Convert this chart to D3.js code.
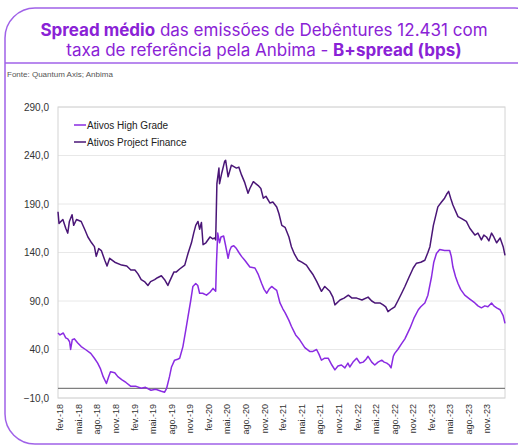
<!DOCTYPE html>
<html>
<head>
<meta charset="utf-8">
<script src="https://cdn.jsdelivr.net/npm/d3@7"></script>
<style>
  body { margin: 0; background: #fff; }
  svg { display: block; }
</style>
</head>
<body>
<div id="chart"></div>
<script>
// data (bps)
var pfDates = ["2018-01-22","2018-01-27","2018-02-15","2018-03-01","2018-03-11","2018-03-19","2018-04-01","2018-04-09","2018-04-23","2018-05-16",
  "2018-06-02","2018-06-18","2018-07-06","2018-07-20","2018-07-29","2018-08-10","2018-08-23","2018-09-09","2018-09-20","2018-10-03",
  "2018-10-28","2018-12-01","2018-12-26","2019-01-15","2019-02-04","2019-02-19","2019-03-07","2019-03-23","2019-04-09","2019-04-22",
  "2019-05-12","2019-05-26","2019-06-14","2019-06-30","2019-07-16","2019-07-24","2019-08-15","2019-08-27","2019-09-12","2019-10-07",
  "2019-10-23","2019-11-09","2019-11-20","2019-11-30","2019-12-11","2019-12-19","2019-12-28","2020-01-05","2020-01-19","2020-02-08",
  "2020-02-22","2020-03-02","2020-03-07","2020-03-13","2020-03-23","2020-03-26","2020-04-06","2020-04-20","2020-04-25","2020-05-07",
  "2020-05-23","2020-06-17","2020-06-29","2020-07-12","2020-07-28","2020-08-13","2020-08-22","2020-09-08","2020-10-02","2020-10-15",
  "2020-10-27","2020-11-09","2020-11-29","2020-12-13","2021-01-01","2021-01-12","2021-01-26","2021-02-11","2021-03-02","2021-03-14",
  "2021-03-30","2021-04-16","2021-05-04","2021-05-27","2021-06-12","2021-06-29","2021-07-17","2021-08-09","2021-08-25","2021-09-19",
  "2021-10-04","2021-10-14","2021-11-08","2021-11-28","2021-12-19","2022-01-06","2022-01-29","2022-02-24","2022-03-26","2022-04-13",
  "2022-04-28","2022-05-23","2022-06-08","2022-06-21","2022-07-02","2022-07-20","2022-08-04","2022-08-19","2022-09-07","2022-09-23",
  "2022-10-12","2022-11-03","2022-11-19","2022-12-10","2022-12-30","2023-01-14","2023-01-24","2023-02-10","2023-03-04","2023-03-22",
  "2023-04-06","2023-04-16","2023-04-26","2023-05-06","2023-05-17","2023-06-11","2023-06-29","2023-07-22","2023-08-08","2023-09-02",
  "2023-09-17","2023-10-04","2023-10-16","2023-10-29","2023-11-10","2023-11-23","2023-12-04","2023-12-18","2024-01-04","2024-01-19",
  "2024-01-28"];
var pfValues = [182,170,174,165,160,172,179,168,174,172,
  164,156,150,146,136,144,142,132,126,134,
  130,127,126,122,122,118,112,110,106,110,
  112,114,116,112,106,110,120,120,123,127,
  139,150,160,168,172,164,171,148,150,156,
  154,155,153,211,227,211,222,234,235,218,
  230,227,228,220,212,201,206,213,209,206,
  196,198,191,192,187,180,168,166,156,146,
  138,132,130,127,122,117,110,100,105,100,
  94,86,91,93,96,93,93,91,94,90,
  88,88,86,84,79,82,84,90,98,105,
  114,124,129,130,132,140,146,168,187,192,
  196,200,203,196,189,177,175,172,165,158,
  160,153,158,156,152,160,156,150,155,146,
  137];

var hgDates = ["2018-01-22","2018-02-01","2018-02-17","2018-03-01","2018-03-11","2018-03-20","2018-03-25","2018-04-02","2018-04-12","2018-04-28",
  "2018-05-16","2018-06-06","2018-07-02","2018-07-20","2018-08-05","2018-08-19","2018-09-01","2018-09-17","2018-09-28","2018-10-07",
  "2018-10-28","2018-11-12","2018-12-01","2018-12-22","2019-01-15","2019-02-10","2019-03-07","2019-03-28","2019-04-24","2019-05-17",
  "2019-06-14","2019-06-30","2019-07-10","2019-07-24","2019-08-03","2019-08-18","2019-09-02","2019-09-12","2019-09-28","2019-10-12",
  "2019-10-23","2019-11-05","2019-11-16","2019-11-30","2019-12-10","2019-12-19","2020-01-03","2020-01-22","2020-02-08","2020-02-23",
  "2020-03-07","2020-03-11","2020-03-17","2020-03-26","2020-04-02","2020-04-15","2020-04-24","2020-05-07","2020-05-15","2020-05-23",
  "2020-06-04","2020-06-17","2020-06-29","2020-07-12","2020-07-28","2020-08-22","2020-09-16","2020-10-01","2020-10-19","2020-10-31",
  "2020-11-13","2020-11-24","2020-12-07","2020-12-19","2021-01-01","2021-01-17","2021-01-31","2021-02-11","2021-03-02","2021-03-14",
  "2021-04-04","2021-04-24","2021-05-19","2021-06-12","2021-06-28","2021-07-16","2021-07-28","2021-08-09","2021-08-25","2021-09-11",
  "2021-09-29","2021-10-14","2021-10-29","2021-11-15","2021-12-02","2021-12-17","2021-12-26","2022-01-11","2022-01-29","2022-02-14",
  "2022-03-02","2022-03-16","2022-03-26","2022-04-13","2022-04-28","2022-05-14","2022-06-01","2022-06-13","2022-06-26","2022-07-08",
  "2022-07-17","2022-07-28","2022-08-04","2022-08-19","2022-09-07","2022-09-23","2022-10-18","2022-11-06","2022-11-28","2022-12-10",
  "2022-12-30","2023-01-14","2023-02-01","2023-02-12","2023-02-25","2023-03-13","2023-04-06","2023-05-01","2023-05-09","2023-05-17",
  "2023-05-30","2023-06-11","2023-06-24","2023-07-14","2023-08-08","2023-09-02","2023-09-17","2023-10-04","2023-10-21","2023-11-05",
  "2023-11-23","2023-12-04","2023-12-18","2024-01-04","2024-01-19","2024-01-28"];
var hgValues = [57,55,57,52,51,48,40,50,51,47,
  43,40,36,31,26,20,12,5,12,17,
  16,12,9,6,2,2,0,1,-2,-1,
  -3,-4,0,12,22,29,30,31,43,60,
  74,90,105,108,106,98,98,96,99,103,
  100,130,160,150,156,157,148,134,142,146,
  147,144,140,136,132,125,124,118,108,102,
  98,102,105,103,101,88,82,78,70,64,
  55,50,42,38,38,40,35,29,31,31,
  24,19,23,24,21,26,22,27,31,26,
  27,30,33,27,24,27,29,27,26,24,
  21,33,36,40,46,51,62,72,81,84,
  88,96,115,130,139,143,142,142,136,125,
  115,108,102,96,92,88,85,83,85,84,
  88,85,83,81,75,67];

var yTicks = [-10, 40, 90, 140, 190, 240, 290];
var monthNames = ["fev.", "mai.", "ago.", "nov."];
var seriesNames = ["Ativos High Grade", "Ativos Project Finance"];
var seriesColors = ["#8a2be2", "#4a1677"];

var svgWidth = 518;
var svgHeight = 447;

var margin = { top: 107, right: 13, bottom: 49, left: 58 };
var width = svgWidth - margin.left - margin.right;
var height = svgHeight - margin.top - margin.bottom;

var parseDate = d3.timeParse("%Y-%m-%d");

var svg = d3.select("#chart")
  .append("svg")
  .attr("width", svgWidth)
  .attr("height", svgHeight);

// frame
svg.append("rect")
  .attr("x", 5).attr("y", 8)
  .attr("width", 540).attr("height", 436)
  .attr("rx", 30)
  .attr("fill", "none")
  .attr("stroke", "#a062e8")
  .attr("stroke-width", 1.5);
svg.append("line")
  .attr("x1", 5).attr("x2", 518)
  .attr("y1", 63).attr("y2", 63)
  .attr("stroke", "#a062e8")
  .attr("stroke-width", 1.5);

// title
var title = svg.append("text")
  .attr("text-anchor", "middle")
  .attr("font-family", "Inter, 'Noto Sans', sans-serif")
  .attr("font-size", "17px")
  .attr("fill", "#8a22d6");
var t1 = title.append("tspan").attr("x", 264).attr("y", 36);
t1.append("tspan").attr("font-weight", "bold").text("Spread médio");
t1.append("tspan").text(" das emissões de Debêntures 12.431 com");
var t2 = title.append("tspan").attr("x", 264).attr("y", 56);
t2.append("tspan").text("taxa de referência pela Anbima - ");
t2.append("tspan").attr("font-weight", "bold").text("B+spread (bps)");

svg.append("text")
  .attr("x", 7).attr("y", 77)
  .attr("font-family", "'Liberation Sans', Arial, sans-serif")
  .attr("font-size", "8px")
  .attr("fill", "#555")
  .text("Fonte: Quantum Axis; Anbima");

var chartGroup = svg.append("g")
  .attr("transform", `translate(${margin.left}, ${margin.top})`);

var pfData = pfDates.map((d, i) => ({ date: parseDate(d), value: pfValues[i] }));
var hgData = hgDates.map((d, i) => ({ date: parseDate(d), value: hgValues[i] }));

var xScale = d3.scaleTime()
  .domain([parseDate("2018-01-22"), parseDate("2024-01-28")])
  .range([0, width]);

var yScale = d3.scaleLinear()
  .domain([-10, 290])
  .range([height, 0]);

// grid
chartGroup.append("g")
  .selectAll("line")
  .data(yTicks)
  .enter()
  .append("line")
  .attr("x1", 0).attr("x2", width)
  .attr("y1", d => yScale(d)).attr("y2", d => yScale(d))
  .attr("stroke", "#e8e8e8");

// plot box
chartGroup.append("rect")
  .attr("width", width).attr("height", height)
  .attr("fill", "none")
  .attr("stroke", "#d4d4d4");

// zero line
chartGroup.append("line")
  .attr("x1", 0).attr("x2", width)
  .attr("y1", yScale(0)).attr("y2", yScale(0))
  .attr("stroke", "#7f7f7f")
  .attr("stroke-width", 1.3);

// y axis
var yAxis = d3.axisLeft(yScale)
  .tickValues(yTicks)
  .tickSize(0)
  .tickPadding(9)
  .tickFormat(d => d3.format(".1f")(d).replace(".", ","));
chartGroup.append("g")
  .call(yAxis)
  .call(g => g.select(".domain").remove())
  .selectAll("text")
  .attr("font-family", "'Liberation Sans', Arial, sans-serif")
  .attr("font-size", "10px")
  .attr("fill", "#333");

// x axis
var tickDates = d3.timeMonth.range(parseDate("2018-02-01"), parseDate("2023-11-02"), 3);
var xAxis = d3.axisBottom(xScale)
  .tickValues(tickDates)
  .tickSize(0)
  .tickFormat(d => monthNames[Math.floor((d.getMonth() - 1) / 3)] + "-" + d3.timeFormat("%y")(d));
chartGroup.append("g")
  .attr("transform", `translate(0, ${height})`)
  .call(xAxis)
  .call(g => g.select(".domain").remove())
  .selectAll("text")
  .attr("font-family", "'Liberation Sans', Arial, sans-serif")
  .attr("font-size", "9px")
  .attr("fill", "#333")
  .attr("text-anchor", "end")
  .attr("transform", "rotate(-90)")
  .attr("x", -6)
  .attr("y", 0)
  .attr("dy", "0.32em");

// lines
var line = d3.line()
  .x(d => xScale(d.date))
  .y(d => yScale(d.value));

chartGroup.append("path")
  .datum(pfData)
  .attr("fill", "none")
  .attr("stroke", seriesColors[1])
  .attr("stroke-width", 1.5)
  .attr("stroke-linejoin", "round")
  .attr("d", line);

chartGroup.append("path")
  .datum(hgData)
  .attr("fill", "none")
  .attr("stroke", seriesColors[0])
  .attr("stroke-width", 1.5)
  .attr("stroke-linejoin", "round")
  .attr("d", line);

// legend
var legend = chartGroup.selectAll(".legend")
  .data(seriesNames)
  .enter()
  .append("g")
  .attr("transform", (d, i) => `translate(16, ${18 + i * 17})`);
legend.append("line")
  .attr("x1", 0).attr("x2", 12)
  .attr("stroke", (d, i) => seriesColors[i])
  .attr("stroke-width", 1.5);
legend.append("text")
  .attr("x", 13)
  .attr("dy", "0.35em")
  .attr("font-family", "'Liberation Sans', Arial, sans-serif")
  .attr("font-size", "10px")
  .attr("fill", "#222")
  .text(d => d);
</script>
</body>
</html>
